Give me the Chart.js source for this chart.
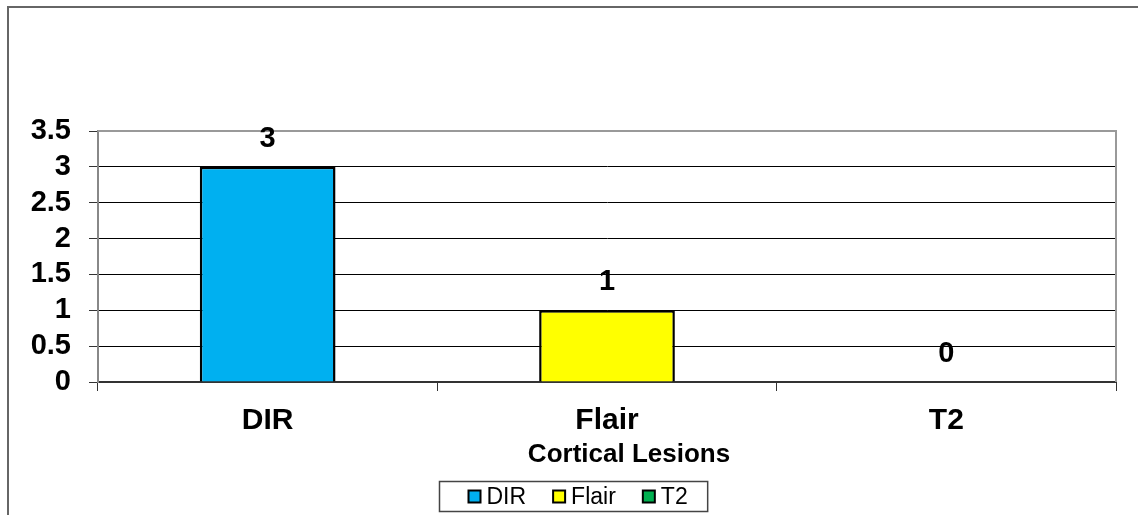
<!DOCTYPE html>
<html>
<head>
<meta charset="utf-8">
<script src="https://cdn.jsdelivr.net/npm/chart.js@4.4.0/dist/chart.umd.min.js"></script>
<style>
  html, body { margin: 0; padding: 0; background: #fff; overflow: hidden; }
  #wrap { width: 1138px; height: 515px; position: relative; }
</style>
</head>
<body>
<div id="wrap"><canvas id="c"></canvas></div>
<script>
// Lesion counts per MRI sequence
const categories = ['DIR', 'Flair', 'T2'];
const lesionCounts = [3, 1, 0];
const barColors = ['#00B0F0', '#FFFF00', '#00B050'];
const yTicks = [0, 0.5, 1, 1.5, 2, 2.5, 3, 3.5];
const axisTitle = 'Cortical Lesions';

const FONT = '"Liberation Sans", Arial, Helvetica, sans-serif';

// Outer frame, plot border, value labels, axis title and boxed legend
const decorations = {
  id: 'decorations',
  beforeDraw(chart) {
    const ctx = chart.ctx;
    ctx.save();
    ctx.fillStyle = '#fff';
    ctx.fillRect(0, 0, chart.width, chart.height);
    ctx.strokeStyle = '#666';
    ctx.lineWidth = 2;
    ctx.beginPath();
    ctx.moveTo(8, chart.height);
    ctx.lineTo(8, 7);
    ctx.lineTo(chart.width, 7);
    ctx.stroke();
    ctx.restore();
  },
  beforeDatasetsDraw(chart) {
    const ctx = chart.ctx;
    const a = chart.chartArea;
    ctx.save();
    ctx.strokeStyle = '#999';
    ctx.lineWidth = 2;
    ctx.beginPath();
    ctx.moveTo(a.left, a.top);
    ctx.lineTo(a.right, a.top);
    ctx.lineTo(a.right, a.bottom);
    ctx.stroke();
    ctx.restore();
  },
  afterDatasetsDraw(chart) {
    const ctx = chart.ctx;
    const meta = chart.getDatasetMeta(0);
    ctx.save();
    ctx.fillStyle = '#000';
    ctx.font = 'bold 29px ' + FONT;
    ctx.textAlign = 'center';
    ctx.textBaseline = 'middle';
    meta.data.forEach((bar, i) => {
      ctx.fillText(String(lesionCounts[i]), bar.x, bar.y - 28);
    });
    ctx.restore();
  },
  afterDraw(chart) {
    const ctx = chart.ctx;
    const a = chart.chartArea;
    ctx.save();
    // axis title
    ctx.fillStyle = '#000';
    ctx.font = 'bold 26px ' + FONT;
    ctx.textAlign = 'center';
    ctx.textBaseline = 'middle';
    ctx.fillText(axisTitle, (a.left + a.right) / 2 + 22, 455);

    // legend
    ctx.font = '23px ' + FONT;
    const sq = 12, gapTxt = 6, gapItem = 27, padL = 29, padR = 20;
    const widths = categories.map(t => ctx.measureText(t).width);
    let total = padL + padR + gapItem * (categories.length - 1);
    widths.forEach(w => { total += sq + gapTxt + w; });
    const cx = chart.width / 2 + 4;
    const boxX = Math.round(cx - total / 2) + 0.5;
    const boxY = chart.height - 34 + 0.5;
    const boxH = 30;
    ctx.strokeStyle = '#444';
    ctx.lineWidth = 1.5;
    ctx.strokeRect(boxX, boxY, total, boxH);
    let x = boxX + padL;
    const cy = boxY + boxH / 2;
    ctx.textAlign = 'left';
    categories.forEach((t, i) => {
      ctx.fillStyle = barColors[i];
      ctx.fillRect(x, cy - sq / 2, sq, sq);
      ctx.strokeStyle = '#000';
      ctx.lineWidth = 2;
      ctx.strokeRect(x, cy - sq / 2, sq, sq);
      ctx.fillStyle = '#000';
      ctx.fillText(t, x + sq + gapTxt, cy + 1);
      x += sq + gapTxt + widths[i] + gapItem;
    });
    ctx.restore();
  }
};

new Chart(document.getElementById('c'), {
  type: 'bar',
  data: {
    labels: categories,
    datasets: [{
      data: lesionCounts,
      backgroundColor: barColors,
      borderColor: '#000',
      borderWidth: ctx => (ctx.raw === 0 ? 0 : 2.5),
      barPercentage: 0.4,
      categoryPercentage: 1
    }]
  },
  options: {
    responsive: true,
    maintainAspectRatio: false,
    animation: false,
    layout: { padding: { left: 0, right: 22, top: 131, bottom: 0 } },
    plugins: {
      legend: { display: false },
      tooltip: { enabled: false }
    },
    scales: {
      x: {
        grid: { display: true, drawOnChartArea: false, tickLength: 9, color: '#333', lineWidth: 1 },
        border: { color: '#333', width: 2 },
        ticks: { font: { family: FONT, size: 30, weight: 'bold' }, color: '#000', padding: 12, autoSkip: false },
        afterFit: s => { s.height = 133; }
      },
      y: {
        min: 0,
        max: 3.5,
        afterBuildTicks: s => { s.ticks = yTicks.map(v => ({ value: v })); },
        grid: {
          color: c => (c.tick && c.tick.value === 3.5 ? '#999' : '#000'),
          lineWidth: 1,
          tickLength: 9,
          tickColor: '#333'
        },
        border: { color: '#888', width: 2 },
        ticks: {
          font: { family: FONT, size: 29, weight: 'bold', lineHeight: 1 },
          color: '#000',
          padding: 18,
          autoSkip: false,
          callback: v => String(v)
        },
        afterFit: s => { s.width = 98; }
      }
    }
  },
  plugins: [decorations]
});
</script>
</body>
</html>
